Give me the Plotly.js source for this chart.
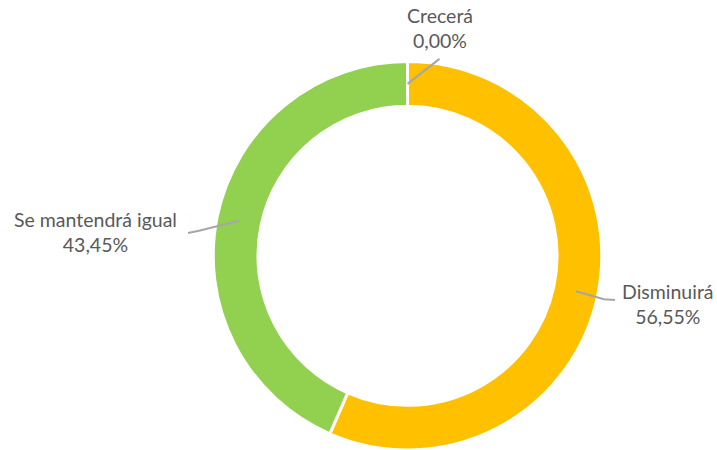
<!DOCTYPE html>
<html>
<head>
<meta charset="utf-8">
<script src="https://cdn.plot.ly/plotly-3.0.1.min.js"></script>
<style>html,body{margin:0;padding:0;background:#fff;overflow:hidden}#chart{width:717px;height:450px}</style>
</head>
<body>
<div id="chart"></div>
<script>
const categories = ["Crecerá", "Disminuirá", "Se mantendrá igual"];
const values = [0.00, 56.55, 43.45];
const valueLabels = ["0,00%", "56,55%", "43,45%"];
const colors = ["#5B9BD5", "#FFC000", "#92D050"];

const W = 717, H = 450;
const cx = 407.5, cy = 256, R = 194.5, hole = 0.77;
const rMid = R * (1 + hole) / 2;

// label layout (text offsets relative to leader start)
const labelLayout = [
  {dx: 32, dy: -25, tx: 440, ty: 28, bend: null},
  {dx: 28, dy: 8, tx: 668, ty: 304, bend: [615, 300]},
  {dx: -40, dy: 10, tx: 95, ty: 232, bend: [188, 233]}
];

const total = values.reduce((a, b) => a + b, 0);
let cum = 0;
const shapes = [], annotations = [];
const px = x => x / W, py = y => 1 - y / H;
values.forEach((v, i) => {
  const mid = (cum + v / 2) / total * 2 * Math.PI;
  cum += v;
  const sx = cx + rMid * Math.sin(mid), sy = cy - rMid * Math.cos(mid);
  const L = labelLayout[i];
  const ex = sx + L.dx, ey = sy + L.dy;
  let path = `M${px(sx)},${py(sy)} L${px(ex)},${py(ey)}`;
  if (L.bend) path += ` L${px(L.bend[0])},${py(L.bend[1])}`;
  shapes.push({type: 'path', xref: 'paper', yref: 'paper', path: path,
    line: {color: '#A6A6A6', width: 2}});
  annotations.push({xref: 'paper', yref: 'paper', x: px(L.tx), y: py(L.ty),
    xanchor: 'center', yanchor: 'middle', showarrow: false, align: 'center',
    text: categories[i] + '<br>' + valueLabels[i],
    font: {family: 'Lato, Open Sans, sans-serif', size: 19.5, color: '#595959'}});
});

const halfW = R / W, halfH = R / H;
const data = [{
  type: 'pie',
  labels: categories,
  values: values,
  sort: false,
  direction: 'clockwise',
  rotation: 0,
  hole: hole,
  textinfo: 'none',
  hoverinfo: 'label+percent',
  marker: {colors: colors, line: {color: '#ffffff', width: 3}},
  domain: {x: [cx / W - halfW, cx / W + halfW], y: [Math.max(0, 1 - cy / H - halfH), 1 - cy / H + halfH]},
  showlegend: false
}];

const layout = {
  width: W, height: H,
  margin: {l: 0, r: 0, t: 0, b: 0},
  paper_bgcolor: '#ffffff',
  showlegend: false,
  shapes: shapes,
  annotations: annotations
};

Plotly.newPlot('chart', data, layout, {displayModeBar: false, staticPlot: true});
</script>
</body>
</html>
